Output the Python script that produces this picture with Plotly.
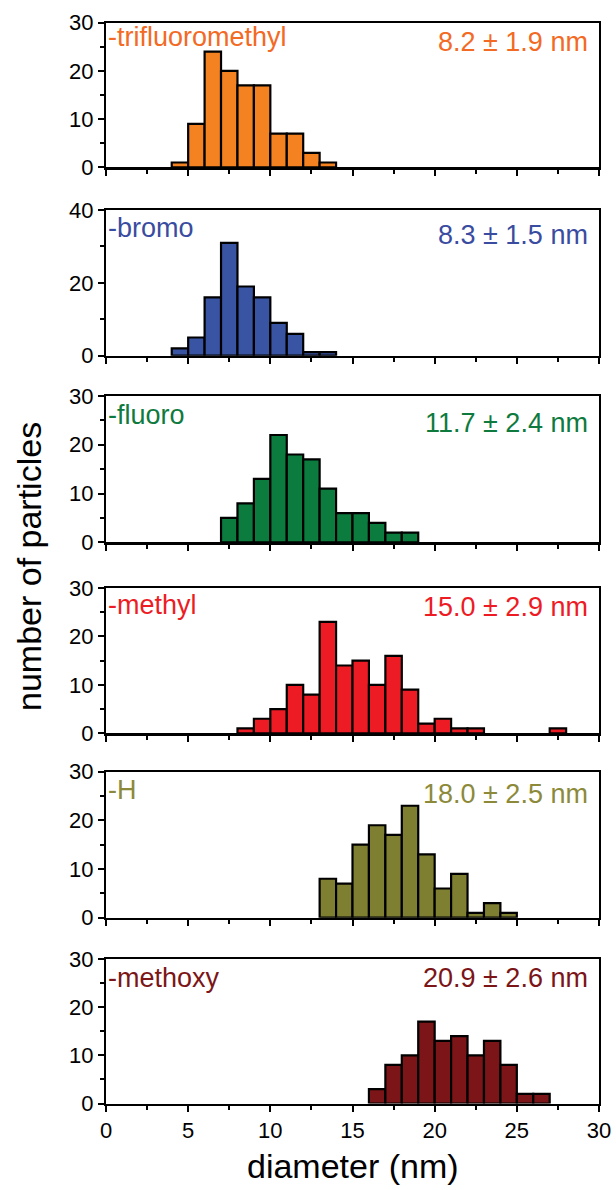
import plotly.graph_objects as go

W, H = 616, 1190

# ---- data: bin lower edges (nm) and counts ----
cf3_edges = [4, 5, 6, 7, 8, 9, 10, 11, 12, 13]
cf3_counts = [1, 9, 24, 20, 17, 17, 7, 7, 3, 1]

br_edges = [4, 5, 6, 7, 8, 9, 10, 11, 12, 13]
br_counts = [2, 5, 16, 31, 19, 16, 9, 6, 1, 1]

f_edges = [7, 8, 9, 10, 11, 12, 13, 14, 15, 16, 17, 18]
f_counts = [5, 8, 13, 22, 18, 17, 11, 6, 6, 4, 2, 2]

me_edges = [8, 9, 10, 11, 12, 13, 14, 15, 16, 17, 18, 19, 20, 21, 22, 27]
me_counts = [1, 3, 5, 10, 8, 23, 14, 15, 10, 16, 9, 2, 3, 1, 1, 1]

h_edges = [13, 14, 15, 16, 17, 18, 19, 20, 21, 22, 23, 24]
h_counts = [8, 7, 15, 19, 17, 23, 13, 6, 9, 1, 3, 1]

ome_edges = [16, 17, 18, 19, 20, 21, 22, 23, 24, 25, 26]
ome_counts = [3, 8, 10, 17, 13, 14, 10, 13, 8, 2, 2]

names = ["-trifluoromethyl", "-bromo", "-fluoro", "-methyl", "-H", "-methoxy"]
sizes = ["8.2 ± 1.9 nm", "8.3 ± 1.5 nm", "11.7 ± 2.4 nm", "15.0 ± 2.9 nm",
         "18.0 ± 2.5 nm", "20.9 ± 2.6 nm"]
y_max = [30, 40, 30, 30, 30, 30]
y_dtick = [10, 20, 10, 10, 10, 10]
x_ticks = [0, 5, 10, 15, 20, 25, 30]

series = [(cf3_edges, cf3_counts), (br_edges, br_counts), (f_edges, f_counts),
          (me_edges, me_counts), (h_edges, h_counts), (ome_edges, ome_counts)]

bar_colors = ["#F58220", "#3A54A4", "#0B7B3E", "#ED1C24", "#7F7F32", "#7B1517"]
text_colors = ["#F26A24", "#3A4CA0", "#0E7A3E", "#ED1C24", "#8C8A3A", "#7B1517"]

# ---- layout geometry (pixels) ----
x_left, x_right = 106, 599
tops = [22.7, 210, 396, 588, 771.7, 959]
bottoms = [167.3, 355.7, 542.3, 733.3, 917.7, 1103.5]
label_y = [37, 228, 415, 605, 790, 978]
value_y = [42, 235, 423, 607, 794, 978]


def px(v):
    return v / W


def py(v):
    return 1 - v / H


FONT = "Liberation Sans, Arial, sans-serif"

fig = go.Figure()
layout = dict(
    width=W, height=H, autosize=False,
    margin=dict(l=0, r=0, t=0, b=0, pad=0, autoexpand=False),
    paper_bgcolor="white", plot_bgcolor="white",
    showlegend=False, bargap=0,
    font=dict(family=FONT, color="black"),
)
annotations = []

for i, ((edges, counts), col) in enumerate(zip(series, bar_colors)):
    n = i + 1
    xa = "x" if n == 1 else f"x{n}"
    ya = "y" if n == 1 else f"y{n}"
    fig.add_trace(go.Bar(
        x=[e + 0.5 for e in edges], y=counts, width=1,
        marker=dict(color=col, line=dict(color="black", width=2.2)),
        xaxis=xa, yaxis=ya,
    ))
    xkey = "xaxis" if n == 1 else f"xaxis{n}"
    ykey = "yaxis" if n == 1 else f"yaxis{n}"
    layout[xkey] = dict(
        domain=[px(x_left), px(x_right)],
        anchor=ya, range=[0, 30], automargin=False,
        tickmode="array", tickvals=x_ticks,
        showticklabels=(n == 6), ticklabeloverflow="allow",
        ticks="outside", ticklen=6, tickwidth=2, tickcolor="black",
        minor=dict(ticks="outside", ticklen=4, tickwidth=2, tickcolor="black", dtick=2.5, tick0=0),
        showline=True, linewidth=2.2, linecolor="black", mirror=True,
        showgrid=False, zeroline=False,
        tickfont=dict(size=22, family=FONT, color="black"),
        fixedrange=True,
    )
    layout[ykey] = dict(
        domain=[py(bottoms[i]), py(tops[i])],
        anchor=xa, range=[0, y_max[i]], automargin=False,
        dtick=y_dtick[i], tick0=0, ticklabeloverflow="allow",
        ticks="outside", ticklen=6, tickwidth=2, tickcolor="black",
        minor=dict(ticks="outside", ticklen=4, tickwidth=2, tickcolor="black", dtick=y_dtick[i] / 2, tick0=0),
        showline=True, linewidth=2.2, linecolor="black", mirror=True,
        showgrid=False, zeroline=False,
        tickfont=dict(size=22, family=FONT, color="black"),
        fixedrange=True,
    )
    annotations.append(dict(
        text=names[i], xref="paper", yref="paper",
        x=px(x_left + 0), y=py(label_y[i]),
        xanchor="left", yanchor="middle", showarrow=False,
        font=dict(size=27, family=FONT, color=text_colors[i]),
    ))
    annotations.append(dict(
        text=sizes[i], xref="paper", yref="paper",
        x=px(x_right - 9), y=py(value_y[i]),
        xanchor="right", yanchor="middle", showarrow=False,
        font=dict(size=27, family=FONT, color=text_colors[i]),
    ))

annotations.append(dict(
    text="diameter (nm)", xref="paper", yref="paper",
    x=px((x_left + x_right) / 2), y=py(1166),
    xanchor="center", yanchor="middle", showarrow=False,
    font=dict(size=34, family=FONT, color="black"),
))
annotations.append(dict(
    text="number of particles", xref="paper", yref="paper",
    x=px(29), y=py(567), textangle=-90,
    xanchor="center", yanchor="middle", showarrow=False,
    font=dict(size=34, family=FONT, color="black"),
))
layout["annotations"] = annotations
fig.update_layout(**layout)
fig.write_html(
    "out.html",
    config={"displayModeBar": False, "staticPlot": True},
    post_script="document.body.style.margin='0';document.body.style.overflow='hidden';",
)
